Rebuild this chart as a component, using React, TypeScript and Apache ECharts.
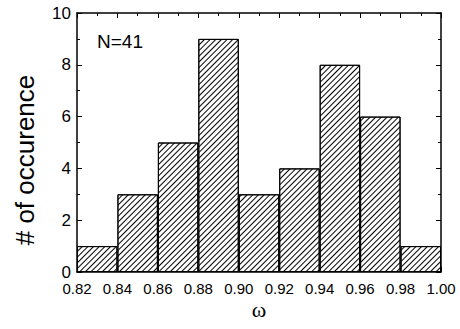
import React, { useEffect, useRef } from "react";
import * as echarts from "echarts";

const binStarts = ["0.82", "0.84", "0.86", "0.88", "0.90", "0.92", "0.94", "0.96", "0.98"];
const counts = [1, 3, 5, 9, 3, 4, 8, 6, 1];
const xMin = 0.82;
const xMax = 1.0;
const xStep = 0.02;
const yMin = 0;
const yMax = 10;
const yStep = 2;
const yTitle = "# of occurence";
const xTitle = "ω";
const annotation = "N=41";

const FONT = "Liberation Sans, Arial, sans-serif";

export default function App() {
  const ref = useRef<HTMLDivElement>(null);
  useEffect(() => {
    document.body.style.margin = "0";
    const chart = echarts.init(ref.current!, null, { renderer: "svg" });
    const axisLine = { show: true, lineStyle: { color: "#000", width: 1.5 } };
    const tick = { show: true, inside: true, length: 5, lineStyle: { color: "#000", width: 1 } };
    const minorTick = { show: true, splitNumber: 2, length: 3, lineStyle: { color: "#000", width: 1 } };
    chart.setOption({
      animation: false,
      backgroundColor: "#fff",
      grid: { left: 77, top: 13, right: 19, bottom: 57, containLabel: false },
      xAxis: [
        {
          type: "value",
          min: xMin,
          max: xMax,
          interval: xStep,
          position: "bottom",
          axisLine,
          axisTick: tick,
          minorTick: { ...minorTick },
          splitLine: { show: false },
          axisLabel: {
            color: "#000",
            fontFamily: FONT,
            fontSize: 15,
            lineHeight: 14,
            margin: 9,
            formatter: (v: number) => v.toFixed(2),
          },
        },
        {
          type: "category",
          data: binStarts,
          show: false,
          boundaryGap: true,
        },
        {
          type: "value",
          min: xMin,
          max: xMax,
          interval: xStep,
          position: "top",
          axisLine,
          axisTick: tick,
          minorTick: { ...minorTick },
          splitLine: { show: false },
          axisLabel: { show: false },
        },
      ],
      yAxis: [
        {
          type: "value",
          min: yMin,
          max: yMax,
          interval: yStep,
          position: "left",
          axisLine,
          axisTick: tick,
          minorTick: { ...minorTick },
          splitLine: { show: false },
          axisLabel: { color: "#000", fontFamily: FONT, fontSize: 17, lineHeight: 14, margin: 6 },
        },
        {
          type: "value",
          min: yMin,
          max: yMax,
          interval: yStep,
          position: "right",
          axisLine,
          axisTick: tick,
          minorTick: { ...minorTick },
          splitLine: { show: false },
          axisLabel: { show: false },
        },
      ],
      series: [
        {
          type: "bar",
          xAxisIndex: 1,
          yAxisIndex: 0,
          data: counts,
          barWidth: "100%",
          barCategoryGap: "0%",
          itemStyle: {
            color: "#fff",
            borderColor: "#000",
            borderWidth: 1,
            decal: {
              symbol: "rect",
              symbolSize: 1,
              color: "#000",
              backgroundColor: "#fff",
              dashArrayX: [1, 0],
              dashArrayY: [1, 2.6],
              rotation: -Math.PI / 4,
            },
          },
          z: 1,
        },
      ],
      graphic: [
        {
          type: "text",
          x: 25,
          y: 160,
          rotation: Math.PI / 2,
          style: {
            text: yTitle,
            fontFamily: FONT,
            fontSize: 26,
            fill: "#000",
            align: "center",
            verticalAlign: "middle",
          },
        },
        {
          type: "text",
          x: 259,
          y: 309,
          style: {
            text: xTitle,
            fontFamily: "Liberation Serif, Times New Roman, serif",
            fontSize: 22,
            fill: "#000",
            align: "center",
            verticalAlign: "middle",
          },
        },
        {
          type: "text",
          x: 97,
          y: 41,
          style: {
            text: annotation,
            fontFamily: FONT,
            fontSize: 19,
            fill: "#000",
            align: "left",
            verticalAlign: "middle",
          },
        },
      ],
    });
    return () => chart.dispose();
  }, []);
  return <div ref={ref} style={{ width: 460, height: 329 }} />;
}
